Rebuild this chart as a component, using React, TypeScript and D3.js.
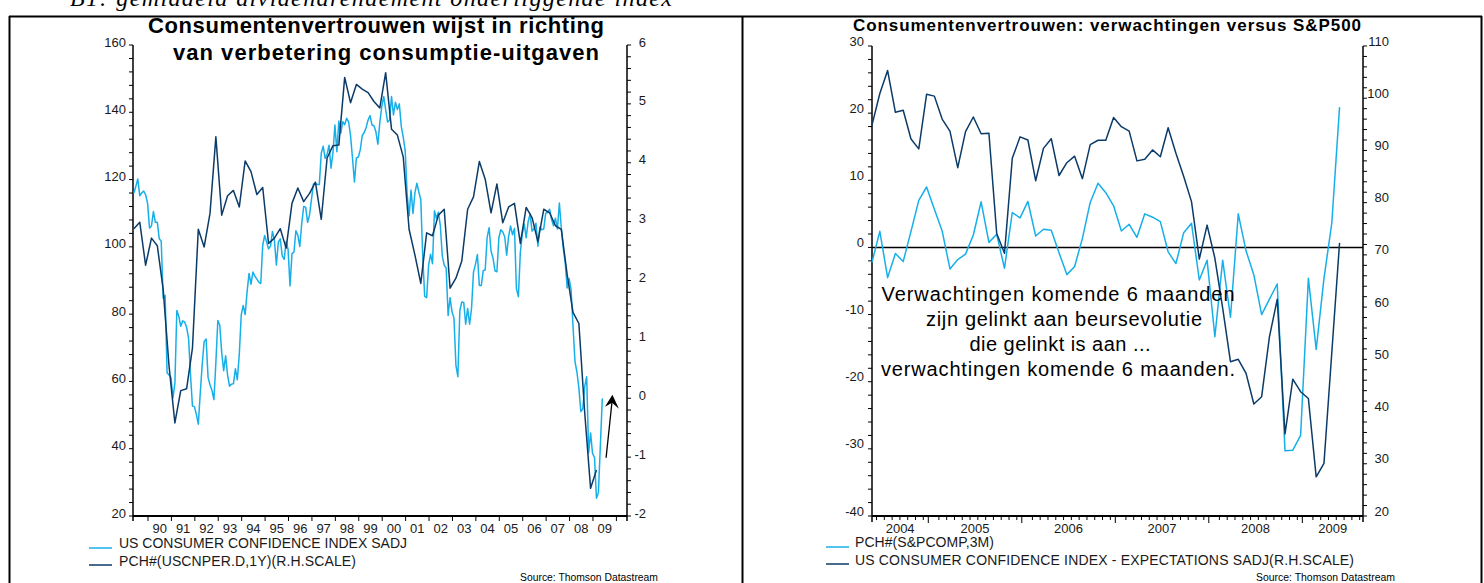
import React from 'react';
import * as d3 from 'd3';

// ---------- DATA ----------
// Left chart: US Consumer Confidence Index (monthly, from May 1989)
const ccStartYear = 1989;
const ccStartMonth = 4; // May (0-based)
const consumerConfidence = [
  116.0, 118.0, 120.2, 115.2, 116.0, 116.6, 115.5, 113.0,
  105.6, 106.2, 110.5, 107.3, 107.3, 102.4, 101.7, 84.7, 85.6, 62.6, 61.9, 61.2,
  55.1, 59.4, 81.1, 79.4, 76.4, 78.0, 77.7, 76.1, 72.9, 62.0, 52.7, 52.5,
  50.2, 47.3, 56.5, 65.1, 71.9, 72.6, 61.2, 59.0, 57.3, 54.6, 65.6, 78.1,
  76.7, 68.5, 63.2, 67.6, 61.9, 58.6, 59.2, 59.3, 63.8, 60.5, 68.1, 79.8,
  82.6, 79.9, 86.7, 92.1, 88.9, 92.5, 91.3, 90.4, 89.5, 89.1, 100.4, 103.4,
  101.4, 99.4, 100.2, 104.6, 102.0, 94.6, 101.4, 102.4, 97.3, 96.3, 101.6, 99.2,
  88.4, 98.0, 98.4, 104.8, 103.5, 100.1, 107.0, 112.0, 111.8, 107.3, 109.5, 114.2,
  118.7, 118.9, 118.5, 118.5, 127.9, 129.9, 126.3, 127.6, 130.2, 123.4, 128.1, 136.2,
  128.3, 137.4, 133.8, 137.2, 136.3, 138.2, 137.2, 133.1, 126.4, 119.3, 126.4, 126.7,
  128.9, 133.1, 134.0, 135.5, 137.7, 139.0, 136.2, 136.0, 134.2, 130.5, 137.0, 141.7,
  144.7, 140.8, 137.1, 137.7, 144.7, 139.2, 143.0, 140.8, 142.5, 135.8, 132.6, 128.6,
  115.7, 109.2, 116.9, 109.9, 116.1, 118.9, 116.3, 114.0, 97.0, 85.3, 84.9, 94.6,
  97.8, 95.0, 110.7, 108.5, 110.3, 106.4, 97.4, 94.5, 93.7, 79.6, 84.9, 80.7,
  78.8, 64.8, 61.4, 81.0, 83.6, 83.5, 77.0, 81.7, 77.0, 81.7, 92.5, 94.8,
  97.7, 88.5, 88.5, 93.0, 93.1, 102.8, 105.7, 98.7, 96.7, 92.9, 92.6, 102.7,
  105.1, 104.4, 103.0, 97.5, 103.1, 106.2, 103.6, 105.5, 87.5, 85.2, 98.3, 103.8,
  106.8, 102.7, 107.5, 109.8, 104.7, 105.4, 107.0, 100.2, 105.9, 105.1, 105.3, 110.0,
  110.2, 111.2, 108.2, 106.3, 108.5, 105.3, 113.0, 105.6, 99.5, 95.2, 87.8, 90.6,
  87.3, 76.4, 65.9, 62.8, 58.1, 51.0, 51.9, 58.5, 61.4, 38.8, 44.7, 38.6,
  37.4, 25.3, 26.9, 40.8, 54.9,
];

// Left chart: PCH#(USCNPER.D,1Y) quarterly (R.H. scale), from May 1989
const pceStartYear = 1989;
const pceStartMonth = 4;
const consumerSpendingGrowth = [
  2.88, 2.99, 2.26, 2.72, 2.59, 1.85, 0.55, -0.42, 0.13, 0.16, 0.85, 2.87,
  2.57, 3.14, 4.44, 3.11, 3.44, 3.53, 3.25, 4.03, 3.85, 3.46, 3.58, 2.63,
  2.72, 2.88, 2.55, 3.31, 3.57, 3.34, 3.48, 3.67, 3.04, 4.08, 4.29, 4.30,
  5.45, 5.02, 5.33, 5.25, 5.19, 5.04, 4.93, 5.53, 4.57, 4.47, 4.10, 2.87,
  2.43, 1.95, 2.81, 2.76, 3.11, 3.21, 1.87, 2.04, 2.33, 3.21, 3.42, 4.02,
  3.72, 3.15, 3.64, 2.98, 3.25, 3.31, 2.63, 3.24, 3.07, 2.66, 3.21, 3.15,
  2.93, 2.87, 2.10, 1.46, 1.27, -0.25, -1.53, -1.22,
];

// Right chart: monthly from May 2004
const rStartYear = 2004;
const rStartMonth = 4;
const sp500Change3M = [
  -2.2, 2.4, -4.5, -0.9, -2.1, 2.4, 7.0, 9.0, 5.7, 2.45, -3.2, -1.8,
  -1.0, 1.85, 6.8, 0.75, 1.95, -3.1, 5.2, 4.4, 6.85, 1.7, 2.7, 2.55,
  -0.8, -4.05, -2.85, 1.35, 6.7, 9.55, 8.15, 6.2, 2.45, 3.45, 1.5, 5.0,
  4.5, 3.85, -0.65, -2.4, 2.2, 3.6, -4.85, -1.9, -13.3, -1.9, -10.4, 5.0,
  -0.5, -4.1, -10.0, -7.7, -5.45, -30.3, -30.2, -28.0, -4.6, -15.2, -4.6, 3.6,
  20.9,
];
const confidenceExpectations = [
  94.9, 100.9, 105.3, 97.3, 97.7, 92.2, 90.3, 100.75, 100.4, 96.0, 93.7, 86.7,
  93.6, 96.4, 93.2, 93.3, 74.1, 70.3, 88.5, 92.6, 92.0, 84.2, 90.4, 92.25,
  85.2, 87.65, 88.9, 84.6, 91.1, 91.95, 91.95, 96.3, 94.55, 93.7, 88.0, 88.3,
  90.1, 88.8, 94.35, 89.45, 85.0, 80.2, 69.2, 75.7, 69.35, 59.8, 49.55, 50.0,
  47.3, 41.45, 42.85, 54.3, 61.5, 35.7, 46.2, 43.8, 42.5, 27.5, 30.1, 51.2,
  72.3,
];

// Tick labels
const leftYLabels = [20, 40, 60, 80, 100, 120, 140, 160];
const leftY2Labels = [-2, -1, 0, 1, 2, 3, 4, 5, 6];
const leftXYears = d3.range(1990, 2010);
const rightYLabels = [-40, -30, -20, -10, 0, 10, 20, 30];
const rightY2Labels = [20, 30, 40, 50, 60, 70, 80, 90, 100, 110];
const rightXYears = [2004, 2005, 2006, 2007, 2008, 2009];

const leftLegend = ['US CONSUMER CONFIDENCE INDEX SADJ', 'PCH#(USCNPER.D,1Y)(R.H.SCALE)'];
const rightLegend = ['PCH#(S&PCOMP,3M)', 'US CONSUMER CONFIDENCE INDEX - EXPECTATIONS SADJ(R.H.SCALE)'];
const annotationLines = [
  'Verwachtingen komende 6 maanden',
  'zijn gelinkt aan beursevolutie',
  'die gelinkt is aan ...',
  'verwachtingen komende 6 maanden.',
];

const LIGHT = '#17afe9';
const DARK = '#0b3b68';
const FONT = '"Liberation Sans", Arial, sans-serif';
const TXT = '#1a1a1a';

const dateOf = (y0: number, m0: number, i: number, step: number) => y0 + (m0 + i * step) / 12 + 0.065;

export default function App() {
  // left panel scales
  const lx = d3.scaleLinear().domain([1989.36, 2010.453]).range([133, 627]);
  const ly = d3.scaleLinear().domain([20, 160]).range([516, 45]);
  const ly2 = d3.scaleLinear().domain([-2, 6]).range([516, 45]);
  // right panel scales
  const rx = d3.scaleLinear().domain([2004.398, 2009.649]).range([872, 1363]);
  const ry = d3.scaleLinear().domain([-40, 30]).range([516, 46]);
  const ry2 = d3.scaleLinear().domain([20, 110]).range([516, 46]);

  const line = d3.line<[number, number]>();

  const ccPath = line(consumerConfidence.map((v, i) => [lx(dateOf(ccStartYear, ccStartMonth, i, 1)), ly(v)]));
  const pcePath = line(consumerSpendingGrowth.map((v, i) => [lx(dateOf(pceStartYear, pceStartMonth, i, 3)), ly2(v)]));
  const spPath = line(sp500Change3M.map((v, i) => [rx(dateOf(rStartYear, rStartMonth, i, 1)), ry(v)]));
  const expPath = line(confidenceExpectations.map((v, i) => [rx(dateOf(rStartYear, rStartMonth, i, 1)), ry2(v)]));

  const lBottom = 516;
  const lL = lx.range()[0], lR = lx.range()[1];
  const rL = rx.range()[0], rR = rx.range()[1];

  // arrow (annotation in data coordinates of left panel, R.H. scale)
  const aFrom: [number, number] = [lx(2009.56), ly2(-1.01)];
  const aTip: [number, number] = [lx(2009.83), ly2(0.06)];

  const labelCenter = (y: number, sc: d3.ScaleLinear<number, number>) => {
    const [d0, d1] = sc.domain();
    return (sc(Math.max(y, d0)) + sc(Math.min(y + 1, d1))) / 2;
  };

  return (
    <div style={{ position: 'absolute', left: 0, top: 0 }}>
      <svg width={1484} height={583} style={{ display: 'block', background: '#fff' }} fontFamily={FONT}>
        <rect x={0} y={0} width={1484} height={583} fill="#fff" />
        {/* header text (cut off at the top edge, as in the source page) */}
        <text x={70} y={6} fontFamily='"Liberation Serif", "Times New Roman", serif' fontStyle="italic" fontSize={24}
          textLength={602} lengthAdjust="spacing" fill="#000">B1: gemiddeld dividendrendement onderliggende index</text>

        {/* frames */}
        <g stroke="#000" strokeWidth={2} fill="none">
          <line x1={9} y1={16.5} x2={1482} y2={16.5} />
          <line x1={9.5} y1={16} x2={9.5} y2={583} />
          <line x1={742.5} y1={16} x2={742.5} y2={583} />
          <line x1={1481.5} y1={16} x2={1481.5} y2={583} />
        </g>

        {/* ================= LEFT PANEL ================= */}
        <text x={148} y={33} fontWeight="bold" fontSize={22} textLength={456} lengthAdjust="spacing" fill="#000">Consumentenvertrouwen wijst in richting</text>
        <text x={173} y={60} fontWeight="bold" fontSize={22} textLength={426} lengthAdjust="spacing" fill="#000">van verbetering consumptie-uitgaven</text>

        {/* left y axis */}
        <line x1={lL} y1={45} x2={lL} y2={lBottom + 5} stroke="#000" strokeWidth={1.5} />
        {d3.range(20, 160.01, 4).map((v) => (
          <line key={'lyt' + v} x1={lL - 4} x2={lL} y1={ly(v)} y2={ly(v)} stroke="#000" strokeWidth={1} />
        ))}
        {leftYLabels.map((v) => (
          <text key={'lyl' + v} x={126} y={ly(v) + 1.5} fontSize={13} textAnchor="end" fill={TXT}>{v}</text>
        ))}
        {/* right y axis */}
        <line x1={lR} y1={45} x2={lR} y2={lBottom + 5} stroke="#000" strokeWidth={1.5} />
        {d3.range(0, 41).map((k) => {
          const v = -2 + k * 0.2;
          return <line key={'lrt' + k} x1={lR} x2={lR + 4} y1={ly2(v)} y2={ly2(v)} stroke="#000" strokeWidth={1} />;
        })}
        {leftY2Labels.map((v) => (
          <text key={'lrl' + v} x={646} y={ly2(v) + 1.5} fontSize={13} textAnchor="end" fill={TXT}>{v}</text>
        ))}
        {/* x axis */}
        <line x1={lL} y1={lBottom} x2={lR} y2={lBottom} stroke="#000" strokeWidth={2} />
        {d3.range(1990, 2011).map((y) => (
          <line key={'lxt' + y} x1={lx(y)} x2={lx(y)} y1={lBottom} y2={lBottom + 5} stroke="#000" strokeWidth={1} />
        ))}
        {leftXYears.map((y) => (
          <text key={'lxl' + y} x={labelCenter(y, lx)} y={533} fontSize={13} textAnchor="middle" fill={TXT}>
            {String(y).slice(2)}
          </text>
        ))}

        {/* series */}
        <path d={ccPath ?? ''} fill="none" stroke={LIGHT} strokeWidth={1.5} strokeLinejoin="round" />
        <path d={pcePath ?? ''} fill="none" stroke={DARK} strokeWidth={1.5} strokeLinejoin="round" />

        {/* arrow */}
        <line x1={aFrom[0]} y1={aFrom[1]} x2={aTip[0] - 0.3} y2={aTip[1] + 6} stroke="#000" strokeWidth={1.3} />
        <path d={`M${aTip[0]},${aTip[1]} L${aTip[0] + 6.5},${aTip[1] + 14} L${aTip[0] - 0.3},${aTip[1] + 8} L${aTip[0] - 7.5},${aTip[1] + 12} Z`} fill="#000" />

        {/* legend */}
        <line x1={89} x2={112} y1={548} y2={548} stroke={LIGHT} strokeWidth={1.5} />
        <text x={119} y={547.5} fontSize={14} textLength={288} lengthAdjust="spacing" fill={TXT}>{leftLegend[0]}</text>
        <line x1={89} x2={112} y1={565} y2={565} stroke={DARK} strokeWidth={1.5} />
        <text x={119} y={565.5} fontSize={14} textLength={237} lengthAdjust="spacing" fill={TXT}>{leftLegend[1]}</text>
        <text x={520} y={581} fontSize={10.5} textLength={138} lengthAdjust="spacingAndGlyphs" fill="#000">Source: Thomson Datastream</text>

        {/* ================= RIGHT PANEL ================= */}
        <text x={853} y={31} fontWeight="bold" fontSize={17} textLength={508} lengthAdjust="spacing" fill="#000">Consumentenvertrouwen: verwachtingen versus S&amp;P500</text>

        {/* left y axis */}
        <line x1={rL} y1={46} x2={rL} y2={lBottom + 6} stroke="#000" strokeWidth={1.5} />
        {d3.range(-40, 30.01, 2).map((v) => (
          <line key={'ryt' + v} x1={rL - 4} x2={rL} y1={ry(v)} y2={ry(v)} stroke="#000" strokeWidth={1} />
        ))}
        {rightYLabels.map((v) => (
          <text key={'ryl' + v} x={864} y={ry(v) - 0.5} fontSize={13} textAnchor="end" fill={TXT}>{v}</text>
        ))}
        {/* right y axis */}
        <line x1={rR} y1={46} x2={rR} y2={lBottom + 6} stroke="#000" strokeWidth={1.5} />
        {d3.range(20, 110.01, 2).map((v) => (
          <line key={'rrt' + v} x1={rR} x2={rR + 4} y1={ry2(v)} y2={ry2(v)} stroke="#000" strokeWidth={1} />
        ))}
        {rightY2Labels.map((v) => (
          <text key={'rrl' + v} x={1389} y={ry2(v) - 0.5} fontSize={13} textAnchor="end" fill={TXT}>{v}</text>
        ))}
        {/* x axis */}
        <line x1={rL} y1={lBottom} x2={rR} y2={lBottom} stroke="#000" strokeWidth={2} />
        {d3.range(2004, 2010).flatMap((y) =>
          d3.range(1, 12).map((m) => {
            const t = y + m / 12 + 0.03;
            if (t < rx.domain()[0] || t > rx.domain()[1]) return null;
            return <line key={'rmt' + y + '-' + m} x1={rx(t)} x2={rx(t)} y1={lBottom} y2={lBottom + 4} stroke="#000" strokeWidth={1} />;
          })
        )}
        {[2005, 2006, 2007, 2008, 2009].map((y) => (
          <line key={'rxt' + y} x1={rx(y)} x2={rx(y)} y1={lBottom} y2={lBottom + 7} stroke="#000" strokeWidth={1} />
        ))}
        {rightXYears.map((y) => (
          <text key={'rxl' + y} x={labelCenter(y, rx)} y={533} fontSize={13} textAnchor="middle" fill={TXT}>{y}</text>
        ))}

        {/* zero line */}
        <line x1={rL} x2={rR} y1={ry(0)} y2={ry(0)} stroke="#000" strokeWidth={1.5} />

        {/* series */}
        <path d={spPath ?? ''} fill="none" stroke={LIGHT} strokeWidth={1.5} strokeLinejoin="round" />
        <path d={expPath ?? ''} fill="none" stroke={DARK} strokeWidth={1.5} strokeLinejoin="round" />

        {/* annotation */}
        {annotationLines.map((s, i) => (
          <text key={'ann' + i} x={[1058, 1064, 1060, 1058][i]} y={301 + i * 25} fontSize={20} textAnchor="middle"
            textLength={[353, 276, 181, 354][i]} lengthAdjust="spacing" fill="#000">{s}</text>
        ))}

        {/* legend */}
        <line x1={826} x2={849} y1={547} y2={547} stroke={LIGHT} strokeWidth={1.5} />
        <text x={855} y={547} fontSize={14} textLength={139} lengthAdjust="spacing" fill={TXT}>{rightLegend[0]}</text>
        <line x1={826} x2={849} y1={564} y2={564} stroke={DARK} strokeWidth={1.5} />
        <text x={855} y={565} fontSize={14} textLength={499} lengthAdjust="spacing" fill={TXT}>{rightLegend[1]}</text>
        <text x={1256} y={581} fontSize={10.5} textLength={139} lengthAdjust="spacingAndGlyphs" fill="#000">Source: Thomson Datastream</text>
      </svg>
    </div>
  );
}
